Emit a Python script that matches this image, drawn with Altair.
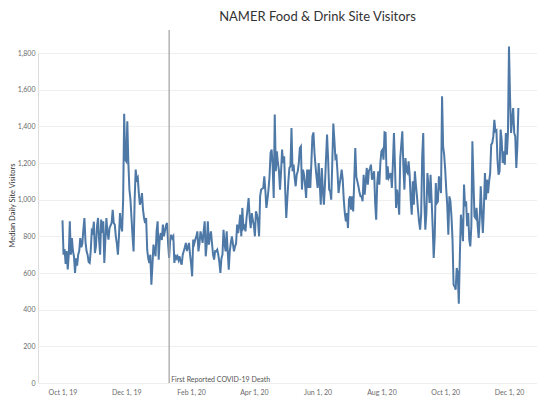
import altair as alt
import pandas as pd

# Median daily site visitors, one value per day starting Oct 1, 2019
oct19 = [887, 700, 730, 650, 720, 620, 700, 882, 700, 790, 720, 690, 600, 680, 640, 700,
         720, 790, 740, 760, 840, 900, 770, 720, 700, 660, 655, 720, 830, 820, 880]
nov19 = [709, 745, 855, 900, 782, 700, 891, 818, 882, 655, 780, 900, 820, 782, 845, 860,
         873, 945, 873, 864, 800, 760, 700, 800, 927, 860, 827, 1000, 1469, 1218]
dec19 = [1209, 1427, 1200, 1055, 1000, 900, 800, 718, 1000, 1164, 1109, 1120, 1036, 973,
         990, 1036, 945, 900, 873, 900, 727, 680, 655, 700, 536, 640, 755, 720, 691, 830, 882]
jan20 = [673, 790, 818, 780, 864, 800, 830, 860, 873, 760, 682, 780, 809, 790, 800, 655,
         700, 680, 691, 670, 691, 660, 645, 700, 720, 740, 764, 720, 740, 764, 700]
feb20 = [650, 582, 782, 760, 782, 800, 827, 718, 760, 827, 800, 764, 827, 882, 691, 760,
         882, 755, 800, 827, 760, 700, 673, 720, 718, 727, 700, 660, 600]
mar20 = [680, 700, 836, 760, 718, 827, 720, 618, 720, 764, 800, 760, 718, 745, 760, 864,
         818, 860, 918, 800, 955, 845, 855, 827, 900, 950, 1009, 900, 845, 927, 890]
apr20 = [860, 800, 936, 918, 880, 800, 1018, 1055, 1060, 1064, 1127, 1050, 955, 1000, 1055,
         1127, 1255, 1273, 1182, 1009, 1464, 1155, 1264, 1200, 1160, 1055, 1150, 1273, 1200, 1236]
may20 = [1050, 900, 1000, 1100, 1173, 1182, 1391, 1155, 1191, 1120, 1073, 1136, 1155, 1200,
         1282, 1291, 1055, 1164, 1136, 1080, 1009, 1164, 1064, 1164, 1064, 1200, 1345, 1367,
         1255, 1182, 1120]
jun20 = [1064, 1200, 1090, 973, 1173, 1050, 973, 1082, 1220, 1355, 1227, 1055, 1045, 1000,
         1200, 1415, 1327, 1227, 1236, 1150, 1036, 1082, 1120, 1164, 1109, 1000, 927, 882, 927, 845]
jul20 = [1000, 1018, 945, 1018, 936, 1100, 1282, 1127, 1100, 1073, 1040, 1018, 1018, 991,
         1136, 1027, 1100, 1173, 1082, 1155, 1170, 1191, 1109, 1130, 1155, 982, 891, 1091,
         1155, 1082, 1200]
aug20 = [1264, 1273, 1218, 1367, 1364, 1109, 1182, 1118, 1130, 1145, 1064, 1200, 1364, 1182,
         955, 1055, 1000, 918, 1227, 1300, 1373, 1182, 1055, 1227, 1155, 1145, 1209, 1136,
         1000, 918, 1100]
sep20 = [973, 1155, 1080, 1018, 945, 880, 836, 918, 1236, 1364, 1000, 836, 927, 1145, 1073,
         982, 1136, 1000, 855, 682, 800, 1091, 982, 991, 1127, 1073, 1036, 1564, 1291, 1245]
oct20 = [1164, 1055, 964, 809, 1018, 991, 909, 782, 536, 527, 509, 627, 600, 433, 691, 918,
         855, 773, 1082, 964, 991, 855, 927, 782, 745, 855, 1318, 1109, 909, 900, 955]
nov20 = [864, 791, 900, 1073, 927, 818, 955, 1145, 1000, 1109, 1036, 1100, 1145, 1300, 1309,
         1345, 1436, 1373, 1378, 1218, 1136, 1155, 1382, 1327, 1200, 1264, 1191, 1364, 1245, 1364]
dec20 = [1836, 1564, 1364, 1436, 1500, 1364, 1345, 1173, 1291, 1500]

values = (oct19 + nov19 + dec19 + jan20 + feb20 + mar20 + apr20 + may20 + jun20
          + jul20 + aug20 + sep20 + oct20 + nov20 + dec20)
dates = pd.date_range("2019-10-01", periods=len(values), freq="D").strftime("%Y-%m-%d")
df = pd.DataFrame({"date": dates, "visitors": values})

x_ticks = [(2019, 10), (2019, 12), (2020, 2), (2020, 4), (2020, 6), (2020, 8), (2020, 10), (2020, 12)]
y_ticks = [0, 200, 400, 600, 800, 1000, 1200, 1400, 1600, 1800]
event_date = "2020-01-11"
event_label = "First Reported COVID-19 Death"

FONT = "Lato"

x_enc = alt.X(
    "date:T",
    scale=alt.Scale(
        type="utc",
        domain=[alt.DateTime(year=2019, month=9, date=7, hours=14, utc=True),
                alt.DateTime(year=2020, month=12, date=27, hours=19, utc=True)],
        nice=False,
    ),
    axis=alt.Axis(
        title=None,
        values=[alt.DateTime(year=y, month=m, date=1, utc=True) for y, m in x_ticks],
        labelExpr="utcFormat(datum.value, '%b %-d, %y')",
        grid=False,
        domain=False,
        ticks=False,
        labelFontSize=7,
        labelColor="#6b6b6b",
        labelFont=FONT,
        labelPadding=5,
    ),
)

line = alt.Chart(df).mark_line(color="#4e79a7", strokeWidth=2).encode(
    x=x_enc,
    y=alt.Y(
        "visitors:Q",
        scale=alt.Scale(domain=[0, 1800], nice=False),
        axis=alt.Axis(
            title="Median Daily Site Visitors",
            values=y_ticks,
            labelExpr="format(datum.value, ',')",
            grid=True,
            gridColor="#efefef",
            gridWidth=1,
            domain=False,
            ticks=False,
            labelFontSize=7,
            labelColor="#6b6b6b",
            labelFont=FONT,
            labelPadding=3,
            titleFont=FONT,
            titleFontSize=7.5,
            titleFontWeight="normal",
            titleColor="#333333",
            titleAngle=270,
            titleX=-26,
            titleY=152,
            titleAlign="center",
            titleBaseline="middle",
        ),
    ),
)

event_df = pd.DataFrame({"date": [event_date], "label": [event_label]})

rule = alt.Chart(event_df).mark_rule(color="#a0a0a0", strokeWidth=1.2, clip=False).encode(
    x=alt.X("date:T"),
    y=alt.value(-23),
    y2=alt.value(330),
)

label = alt.Chart(event_df).mark_text(
    align="left", baseline="alphabetic", dx=2, fontSize=7, font=FONT, color="#555555"
).encode(
    x=alt.X("date:T"),
    y=alt.value(329),
    text="label:N",
)

chart = alt.layer(line, rule, label).properties(
    width=499,
    height=330,
    autosize=alt.AutoSizeParams(type="none"),
    padding={"left": 30, "top": 45, "right": 0, "bottom": 18},
    title=alt.TitleParams(
        text="NAMER Food & Drink Site Visitors",
        font=FONT,
        fontSize=13,
        fontWeight="normal",
        color="#333333",
        anchor="middle",
        frame="group",
        dx=30,
        dy=-1,
    ),
).configure_view(stroke=None).configure(background="white")

chart.save("out.html", embed_options={"renderer": "svg", "actions": False})
